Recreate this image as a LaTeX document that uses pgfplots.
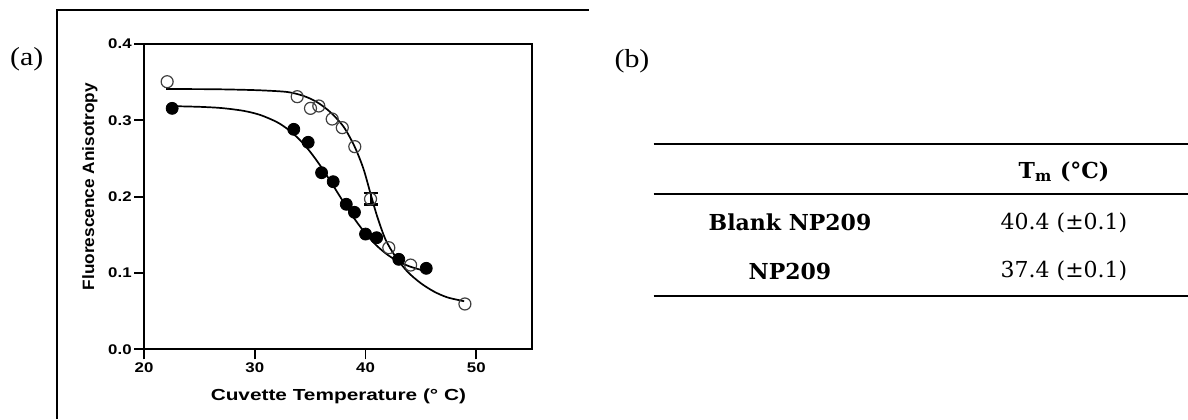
\documentclass[border=0pt]{standalone}
\usepackage{graphicx}
\usepackage{pgfplots}
\pgfplotsset{compat=1.18}
\usepackage{fontspec}
\setmainfont{Liberation Serif}
\newfontfamily\plotfont{Liberation Sans}
\newfontfamily\tabfont{DejaVu Serif}

% fitted melting curves (anisotropy vs temperature)
\pgfplotstableread{
x y
22.0 0.3410
26.0 0.3408
29.0 0.3400
31.0 0.3390
33.0 0.3370
34.4 0.3320
35.6 0.3240
36.8 0.3110
38.0 0.2920
39.0 0.2660
39.8 0.2370
40.45 0.2040
41.06 0.1737
41.8 0.1440
42.7 0.1215
43.8 0.1015
45.0 0.0865
46.2 0.0755
47.4 0.0680
48.9 0.0630
}\blankfit
\pgfplotstableread{
x y
22.5 0.3186
25.0 0.3177
27.0 0.3161
29.0 0.3124
30.5 0.3070
32.0 0.2977
33.0 0.2881
34.0 0.2753
35.0 0.2588
36.0 0.2388
37.0 0.2163
38.0 0.1931
39.0 0.1710
40.0 0.1517
41.0 0.1359
42.0 0.1237
43.0 0.1148
44.0 0.1085
45.0 0.1041
45.5 0.1024
}\npfit

\begin{document}
\begin{tikzpicture}
\begin{axis}[
  at={(72pt,-174.65pt)}, anchor=south west,
  scale only axis, width=193.85pt, height=152.65pt,
  xmin=20, xmax=55, ymin=0, ymax=0.4,
  xtick={20,30,40,50}, ytick={0,0.1,0.2,0.3,0.4},
  tick pos=left, tick align=outside, major tick length=5pt,
  axis line style={line width=0.9pt},
  every tick/.style={line width=0.9pt, black},
  xticklabel style={inner sep=1.5pt},
  yticklabel style={inner sep=1pt},
  xticklabel={\scalebox{1.2}[1]{\plotfont\bfseries\fontsize{7}{8}\selectfont\pgfmathprintnumber[assume math mode=true]{\tick}}},
  yticklabel={\scalebox{1.2}[1]{\plotfont\bfseries\fontsize{7}{8}\selectfont\pgfmathprintnumber[assume math mode=true,fixed,fixed zerofill,precision=1]{\tick}}},
  clip=false,
]
\addplot[black, line width=0.85pt, smooth, tension=0.5] table {\blankfit};
\addplot[black, line width=0.85pt, smooth, tension=0.5] table {\npfit};
% NP209
\addplot[only marks, mark=*, mark size=3pt, black] coordinates {
(22.54,0.3157) (33.52,0.2882) (34.82,0.2712) (36.03,0.2314) (37.08,0.2196)
(38.26,0.1900) (39.0,0.1795) (40.0,0.1510) (41.0,0.1462) (43.0,0.1179) (45.48,0.1061)
};
% Blank NP209
\addplot[only marks, mark=o, mark size=3pt, black!75, mark options={line width=0.6pt}] coordinates {
(22.09,0.3506) (33.83,0.3310) (35.03,0.3157) (35.78,0.3188) (36.99,0.3017)
(37.9,0.2904) (39.03,0.2655) (42.1,0.1331) (44.07,0.1104) (48.97,0.0594)
};
\addplot[only marks, mark=o, mark size=3pt, black!75, mark options={line width=0.6pt},
  error bars/.cd, y dir=both, y explicit,
  error bar style={line width=1pt, black},
  error mark options={rotate=90, mark size=3.5pt, line width=1.2pt, black}]
  coordinates {(40.45,0.197) +- (0,0.0075)};
\end{axis}

\begin{scope}[x=0.5pt, y=-0.5pt]
% panel frame
\draw[line width=0.6pt] (57,419) -- (57,10) -- (589,10);
\node at (26.7,59) {\scalebox{1.15}[1]{\fontsize{13}{15}\selectfont (a)}};
\node at (632,61) {\scalebox{1.15}[1]{\fontsize{13}{15}\selectfont (b)}};
% axis titles
\node at (338.4,396) {\scalebox{1.3}[1]{\plotfont\bfseries\fontsize{8}{9}\selectfont Cuvette Temperature (\textdegree\ C)}};
\node[rotate=90] at (90,186.7) {\scalebox{1.05}[1]{\plotfont\bfseries\fontsize{8.2}{9}\selectfont Fluorescence Anisotropy}};
% table
\draw[line width=1pt] (653.6,144.3) -- (1188,144.3);
\draw[line width=1pt] (653.6,194.3) -- (1188,194.3);
\draw[line width=1pt] (653.6,296) -- (1188,296);
\node[font=\tabfont\bfseries\fontsize{11}{12}\selectfont] at (1064,171.7) {T\textsubscript{m} (°C)};
\node[font=\tabfont\bfseries\fontsize{11}{12}\selectfont] at (790,222.7) {Blank NP209};
\node[font=\tabfont\bfseries\fontsize{11}{12}\selectfont] at (790,271) {NP209};
\node[font=\tabfont\fontsize{11}{12}\selectfont] at (1064,222.7) {40.4 (±0.1)};
\node[font=\tabfont\fontsize{11}{12}\selectfont] at (1064,271) {37.4 (±0.1)};
\pgfresetboundingbox
\useasboundingbox (0,0) rectangle (1188,419);
\end{scope}
\end{tikzpicture}
\end{document}
